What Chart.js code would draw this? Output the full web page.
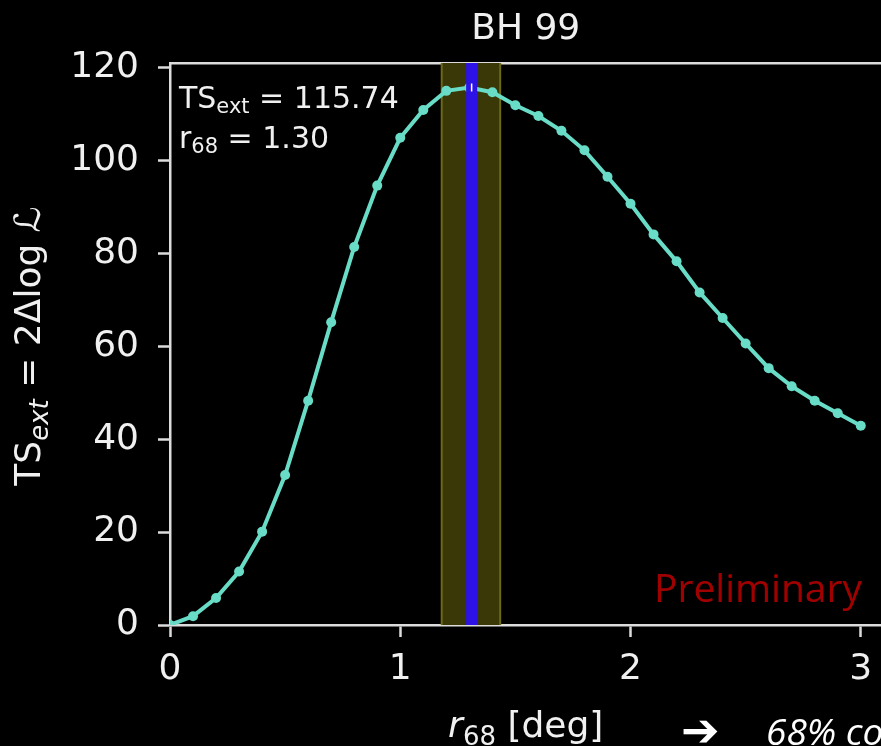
<!DOCTYPE html>
<html><head><meta charset="utf-8">
<script src="https://cdn.jsdelivr.net/npm/chart.js@4"></script>
<style>html,body{margin:0;padding:0;background:#000;overflow:hidden;width:881px;height:746px}canvas{display:block}</style>
</head><body>
<canvas id="c" width="887" height="746"></canvas>
<script>
// ---- data ----
const r68 = [0.0,0.1,0.2,0.3,0.4,0.5,0.6,0.7,0.8,0.9,1.0,1.1,1.2,1.3,1.4,1.5,1.6,1.7,1.8,1.9,2.0,2.1,2.2,2.3,2.4,2.5,2.6,2.7,2.8,2.9,3.0];
const tsExt = [0,1.9,5.8,11.5,20.1,32.3,48.3,65.2,81.4,94.6,104.9,110.9,115.0,115.7,114.7,111.9,109.6,106.4,102.2,96.5,90.7,84.1,78.3,71.6,66.1,60.6,55.3,51.4,48.3,45.6,42.9];
const xTicks = [0,1,2,3];
const yTicks = [0,20,40,60,80,100,120];
const bestR68 = 1.31;
const bandR68 = [1.18, 1.434];
const bestTS = 115.74;
const r68Label = 1.30;
const X_MAX = 3.09;
const Y_MAX = 121;
const titleText = 'BH 99';
const prelimText = 'Preliminary';
const footArrow = '➔';
const footText = '68% containment';

// ---- styles ----
const AX = '#dcdcdc';
const TXT = '#f0f0f0';
const CURVE = '#68dcc6';
const FONT = 'DejaVu Sans';

const curve = r68.map((x, i) => ({x, y: tsExt[i]}));

function drawRich(ctx, parts, x, y, align) {
  let w = 0;
  parts.forEach(p => { ctx.font = p.f; p.w = ctx.measureText(p.t).width; w += p.w; });
  let cx = align === 'center' ? x - w / 2 : align === 'right' ? x - w : x;
  ctx.textAlign = 'left';
  ctx.textBaseline = 'alphabetic';
  parts.forEach(p => { ctx.font = p.f; ctx.fillText(p.t, cx, y + (p.dy || 0)); cx += p.w; });
}

const textPlugin = {
  id: 'texts',
  afterDraw(chart) {
    const {ctx, chartArea: a} = chart;
    ctx.save();
    ctx.fillStyle = TXT;
    // annotation box text
    drawRich(ctx, [
      {t: 'TS', f: `30px "${FONT}"`},
      {t: 'ext', f: `21px "${FONT}"`, dy: 5},
      {t: ' = ' + bestTS.toFixed(2), f: `30px "${FONT}"`}
    ], a.left + 9, a.top + 45, 'left');
    drawRich(ctx, [
      {t: 'r', f: `30px "${FONT}"`},
      {t: '68', f: `21px "${FONT}"`, dy: 5},
      {t: ' = ' + r68Label.toFixed(2), f: `30px "${FONT}"`}
    ], a.left + 9, a.top + 85, 'left');
    // x title
    drawRich(ctx, [
      {t: 'r', f: `italic 36px "${FONT}"`},
      {t: '68', f: `26px "${FONT}"`, dy: 8},
      {t: ' [deg]', f: `36px "${FONT}"`}
    ], (a.left + a.right) / 2, 737, 'center');
    // y title
    ctx.save();
    ctx.translate(40, (a.top + a.bottom) / 2 + 2);
    ctx.rotate(-Math.PI / 2);
    drawRich(ctx, [
      {t: 'TS', f: `36px "${FONT}"`},
      {t: 'ext', f: `italic 26px "${FONT}"`, dy: 8},
      {t: ' = 2Δlog ', f: `36px "${FONT}"`},
      {t: 'ℒ', f: `italic 36px "${FONT}"`}
    ], 0, 0, 'center');
    ctx.restore();
    // Preliminary
    ctx.fillStyle = '#a10000';
    ctx.font = '39px "Open Sans"';
    ctx.textAlign = 'right';
    ctx.textBaseline = 'alphabetic';
    ctx.fillText(prelimText, 862, 602);
    // footer
    ctx.fillStyle = '#ffffff';
    ctx.font = 'bold 46px "DejaVu Sans"';
    ctx.textAlign = 'left';
    ctx.fillText(footArrow, 681, 746);
    ctx.font = 'italic 37px "Open Sans"';
    ctx.fillText(footText, 766, 745);
    ctx.restore();
  }
};

new Chart(document.getElementById('c'), {
  type: 'line',
  data: {
    datasets: [
      {label: 'mark', data: [{x: bestR68, y: bestTS}], showLine: false, pointStyle: 'line', rotation: 90,
       pointRadius: 4, borderColor: '#ffffff', backgroundColor: '#ffffff', pointBorderWidth: 1.5, borderWidth: 1.5, order: 0},
      {label: 'best', data: [{x: bestR68, y: 0}, {x: bestR68, y: Y_MAX}], borderColor: '#2c12e6', borderWidth: 11,
       borderCapStyle: 'butt', pointRadius: 0, order: 1},
      {label: 'TS', data: curve, borderColor: CURVE, backgroundColor: CURVE, borderWidth: 4, pointRadius: 5,
       pointBorderWidth: 0, tension: 0, order: 2},
      {label: 'band', data: [{x: bandR68[0], y: 0}, {x: bandR68[0], y: Y_MAX}, {x: bandR68[1], y: Y_MAX}, {x: bandR68[1], y: 0}],
       fill: 'origin', backgroundColor: '#3a3806', borderColor: '#6c6a14', borderWidth: 2, pointRadius: 0,
       segment: {borderColor: c => c.p0DataIndex === 1 ? 'rgba(0,0,0,0)' : '#6c6a14'}, order: 3}
    ]
  },
  options: {
    responsive: false,
    animation: false,
    devicePixelRatio: 1,
    layout: {padding: 0},
    plugins: {legend: {display: false}, tooltip: {enabled: false}, title: {display: false}},
    scales: {
      x: {
        type: 'linear', position: 'bottom', min: 0, max: X_MAX,
        afterBuildTicks: s => { s.ticks = xTicks.map(v => ({value: v})); },
        afterFit: s => { s.height = 121; s.paddingLeft = 0; s.paddingRight = 0; },
        ticks: {font: {family: FONT, size: 36}, color: TXT, padding: 11, maxRotation: 0, autoSkip: false, callback: v => String(v)},
        grid: {display: true, drawOnChartArea: false, drawTicks: true, tickLength: 12, tickWidth: 2.5, tickColor: AX, color: AX},
        border: {display: true, color: AX, width: 2.5}
      },
      xTop: {
        type: 'linear', position: 'top', min: 0, max: X_MAX,
        ticks: {display: false}, grid: {display: false},
        border: {display: true, color: AX, width: 2.5},
        title: {display: true, text: titleText, color: TXT, font: {family: FONT, size: 36}, padding: {top: 8, bottom: 0}},
        afterFit: s => { s.height = 63; s.paddingLeft = 0; s.paddingRight = 0; }
      },
      y: {
        type: 'linear', position: 'left', min: 0, max: Y_MAX,
        afterBuildTicks: s => { s.ticks = yTicks.map(v => ({value: v})); },
        afterFit: s => { s.width = 170; },
        ticks: {font: {family: FONT, size: 36}, color: TXT, padding: 19, autoSkip: false, callback: v => String(v)},
        grid: {display: true, drawOnChartArea: false, drawTicks: true, tickLength: 12, tickWidth: 2.5, tickColor: AX, color: AX},
        border: {display: true, color: AX, width: 2.5}
      }
    }
  },
  plugins: [textPlugin]
});
</script>
</body></html>
